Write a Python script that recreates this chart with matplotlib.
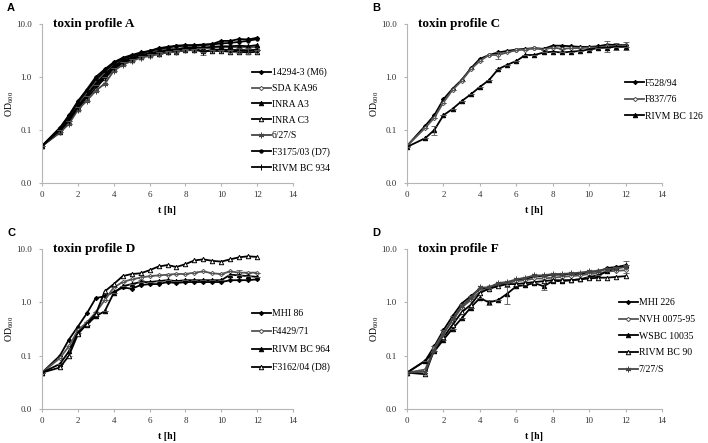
import matplotlib
matplotlib.use("Agg")
import matplotlib.pyplot as plt
from matplotlib.ticker import FixedLocator, FuncFormatter

plt.rcParams['font.family'] = ['Liberation Serif', 'DejaVu Serif']
plt.rcParams['mathtext.fontset'] = 'custom'
plt.rcParams['mathtext.rm'] = 'Liberation Serif'

t = [0, 1, 1.5, 2, 2.5, 3, 3.5, 4, 4.5, 5, 5.5, 6, 6.5, 7, 7.5, 8, 8.5, 9, 9.5, 10, 10.5, 11, 11.5, 12]

# Panel A - toxin profile A
a_names = ["14294-3 (M6)", "SDA KA96", "INRA A3", "INRA C3", "6/27/S", "F3175/03 (D7)", "RIVM BC 934"]
a_vals = [
    [0.05, 0.11, 0.19, 0.35, 0.58, 1.0, 1.4, 1.9, 2.3, 2.6, 2.9, 3.1, 3.5, 3.7, 3.9, 4.0, 4.0, 4.1, 4.2, 4.8, 4.8, 5.2, 5.1, 5.5],
    [0.05, 0.10, 0.17, 0.30, 0.50, 0.85, 1.2, 1.7, 2.1, 2.4, 2.7, 3.0, 3.2, 3.4, 3.4, 3.6, 3.6, 3.5, 3.5, 3.7, 3.6, 3.7, 3.6, 3.7],
    [0.05, 0.10, 0.16, 0.28, 0.45, 0.75, 1.1, 1.6, 2.0, 2.3, 2.6, 2.8, 3.0, 3.2, 3.3, 3.5, 3.6, 3.6, 3.7, 3.8, 3.8, 3.9, 3.8, 4.0],
    [0.05, 0.09, 0.14, 0.25, 0.40, 0.62, 0.95, 1.4, 1.8, 2.1, 2.4, 2.6, 2.7, 2.9, 3.0, 3.2, 3.2, 3.1, 3.1, 3.1, 3.0, 3.0, 2.9, 3.0],
    [0.05, 0.09, 0.13, 0.24, 0.36, 0.55, 0.75, 1.3, 1.7, 2.0, 2.3, 2.5, 2.7, 2.9, 3.0, 3.2, 3.3, 3.1, 3.2, 3.3, 3.2, 3.3, 3.2, 3.3],
    [0.05, 0.11, 0.18, 0.33, 0.55, 0.90, 1.3, 1.8, 2.2, 2.5, 2.8, 3.1, 3.4, 3.6, 3.8, 3.9, 3.9, 4.0, 4.1, 4.3, 4.4, 4.6, 4.8, 5.2],
    [0.05, 0.10, 0.15, 0.27, 0.44, 0.70, 1.0, 1.5, 1.9, 2.2, 2.5, 2.7, 2.9, 3.1, 3.2, 3.4, 3.4, 3.0, 3.2, 3.3, 3.2, 3.2, 3.1, 3.3],
]
a_err = {4: [0]*17 + [0.5] + [0]*6, 6: [0]*21 + [0.4, 0.4, 0]}

# Panel B - toxin profile C
b_names = ["F528/94", "F837/76", "RIVM BC 126"]
b_vals = [
    [0.05, 0.12, 0.19, 0.38, 0.60, 0.88, 1.45, 2.2, 2.6, 2.9, 3.1, 3.3, 3.4, 3.5, 3.4, 3.9, 3.9, 3.8, 3.7, 3.7, 3.8, 4.1, 4.0, 4.0],
    [0.05, 0.11, 0.17, 0.33, 0.57, 0.85, 1.40, 2.0, 2.6, 2.6, 2.9, 3.2, 3.3, 3.5, 3.3, 3.6, 3.4, 3.5, 3.5, 3.6, 3.6, 3.8, 3.8, 3.9],
    [0.048, 0.07, 0.10, 0.19, 0.25, 0.35, 0.47, 0.65, 0.87, 1.4, 1.7, 2.0, 2.6, 2.6, 2.9, 3.0, 2.9, 3.0, 3.1, 3.3, 3.5, 3.6, 3.7, 3.7],
]
b_err = {1: [0]*9 + [0.4] + [0]*11 + [0.9, 0.5, 0.6], 2: [0, 0, 0.02] + [0]*21}

# Panel C - toxin profile D
c_names = ["MHI 86", "F4429/71", "RIVM BC 964", "F3162/04 (D8)"]
c_vals = [
    [0.048, 0.10, 0.20, 0.35, 0.62, 1.20, 1.30, 1.55, 1.9, 1.8, 2.1, 2.2, 2.2, 2.4, 2.3, 2.4, 2.4, 2.4, 2.4, 2.4, 2.6, 2.6, 2.6, 2.7],
    [0.048, 0.09, 0.15, 0.30, 0.42, 0.65, 1.10, 1.90, 2.4, 2.7, 2.9, 3.1, 3.2, 3.3, 3.4, 3.4, 3.6, 3.8, 3.5, 3.4, 3.8, 3.6, 3.6, 3.6],
    [0.048, 0.07, 0.12, 0.27, 0.38, 0.55, 0.68, 1.50, 2.0, 2.2, 2.4, 2.4, 2.5, 2.6, 2.5, 2.6, 2.6, 2.6, 2.6, 2.6, 3.3, 3.2, 3.1, 3.0],
    [0.048, 0.06, 0.10, 0.25, 0.40, 0.60, 1.60, 2.20, 3.1, 3.4, 3.5, 4.0, 4.7, 5.0, 4.6, 5.2, 6.1, 6.4, 6.0, 5.8, 6.4, 7.0, 7.3, 7.1],
]
c_err = {1: [0]*10 + [0.3] + [0]*10 + [0.4, 0, 0], 2: [0, 0, 0.02] + [0]*21}

# Panel D - toxin profile F
d_names = ["MHI 226", "NVH 0075-95", "WSBC 10035", "RIVM BC 90", "7/27/S"]
d_vals = [
    [0.048, 0.08, 0.15, 0.30, 0.55, 0.95, 1.30, 1.80, 1.9, 2.2, 2.3, 2.6, 2.7, 3.1, 3.1, 3.3, 3.3, 3.4, 3.4, 3.7, 3.8, 4.4, 4.6, 4.8],
    [0.048, 0.055, 0.14, 0.27, 0.45, 0.80, 1.10, 1.60, 1.8, 2.1, 2.3, 2.5, 2.6, 2.8, 2.8, 2.9, 3.0, 3.1, 3.2, 3.4, 3.5, 3.8, 3.9, 4.0],
    [0.048, 0.08, 0.12, 0.20, 0.32, 0.50, 0.80, 1.20, 1.0, 1.1, 1.45, 2.0, 2.1, 2.3, 2.0, 2.5, 2.5, 2.6, 2.7, 3.0, 3.2, 3.8, 4.5, 5.0],
    [0.048, 0.045, 0.13, 0.22, 0.38, 0.65, 0.90, 1.50, 1.8, 2.0, 2.2, 2.2, 2.3, 2.4, 2.5, 2.6, 2.6, 2.6, 2.7, 2.8, 2.9, 2.9, 3.0, 3.1],
    [0.048, 0.05, 0.13, 0.25, 0.48, 0.85, 1.20, 1.90, 1.9, 2.3, 2.4, 2.7, 2.9, 3.2, 3.2, 3.4, 3.4, 3.5, 3.6, 3.8, 3.9, 4.2, 4.3, 4.6],
]
d_err = {2: [0]*8 + [0.1, 0, 0.5, 0, 0, 0, 0.3] + [0]*9, 0: [0]*23 + [1.2]}

styles = [
    ('D', 'black', 'black', 2.2),
    ('D', 'white', '#555555', 2.2),
    ('^', 'black', 'black', 3.2),
    ('^', 'white', 'black', 3.2),
    ((6, 2, 0), 'black', '#444444', 4),
    ('o', 'black', 'black', 2.4),
    ('|', 'black', 'black', 5),
]

fig = plt.figure(figsize=(7.08, 4.43), dpi=100)

panels = [
    ("A", "toxin profile A", a_names, a_vals, a_err, [42, 24, 293, 183], [0.835, 0.726], 0.70),
    ("B", "toxin profile C", b_names, b_vals, b_err, [407, 24, 662, 183], [0.855, 0.657], 0.77),
    ("C", "toxin profile D", c_names, c_vals, c_err, [42, 249, 293, 409], [0.835, 0.622], 0.90),
    ("D", "toxin profile F", d_names, d_vals, d_err, [407, 249, 662, 409], [0.83, 0.691], 0.79),
]
W, H = 708, 443
GRAY = '#b5b5b5'
for letter, title, names, vals, errs, box, legpos, lsp in panels:
    x0, y0, x1, y1 = box
    ax = fig.add_axes([x0 / W, 1 - y1 / H, (x1 - x0) / W, (y1 - y0) / H])
    for i, (nm, v) in enumerate(zip(names, vals)):
        mk, mfc, col, ms = styles[i]
        ax.plot(t, v, color=col, lw=1.3, marker=mk, ms=ms, mfc=mfc, mec=col, mew=0.7, label=nm)
        if i in errs:
            ax.errorbar(t, v, yerr=errs[i], fmt='none', ecolor='#555555', elinewidth=0.6, capsize=2, capthick=0.6)
    ax.set_yscale('log')
    ax.set_ylim(0.01, 10)
    ax.set_xlim(0, 14)
    ax.yaxis.set_major_locator(FixedLocator([0.01, 0.1, 1, 10]))
    ax.yaxis.set_minor_locator(FixedLocator([]))
    ax.yaxis.set_major_formatter(FuncFormatter(lambda v, p: "0.0" if v < 0.05 else f"{v:.1f}"))
    ax.set_xticks([0, 2, 4, 6, 8, 10, 12, 14])
    for s in ['top', 'right']:
        ax.spines[s].set_visible(False)
    for s in ['left', 'bottom']:
        ax.spines[s].set_color(GRAY)
        ax.spines[s].set_linewidth(0.8)
    ax.tick_params(axis='y', labelsize=6.5, length=2.5, color=GRAY, width=0.8, pad=5, labelcolor='#333333')
    ax.tick_params(axis='x', labelsize=6.5, length=2.5, color=GRAY, width=0.8, pad=3, labelcolor='#333333')
    ax.set_xlabel("t [h]", fontsize=7, fontweight='bold', labelpad=5)
    ax.set_ylabel(r"OD$_{600}$", fontsize=7)
    ax.yaxis.set_label_coords(-26 / (x1 - x0), 0.5)
    ax.text(0.045, 1.0, title, transform=ax.transAxes, fontsize=9.5, fontweight='bold', va='center', ha='left')
    ax.legend(loc='upper left', bbox_to_anchor=(legpos[0], legpos[1]), frameon=False, fontsize=7,
              handlelength=2.0, handletextpad=0.05, labelspacing=lsp, borderaxespad=0, borderpad=0)
    fig.text((x0 - 35) / W, 1 - (y0 - 16) / H, letter, fontsize=8, fontweight='bold',
             family='Liberation Sans', va='center', ha='left')

fig.savefig("out.png", dpi=100)
